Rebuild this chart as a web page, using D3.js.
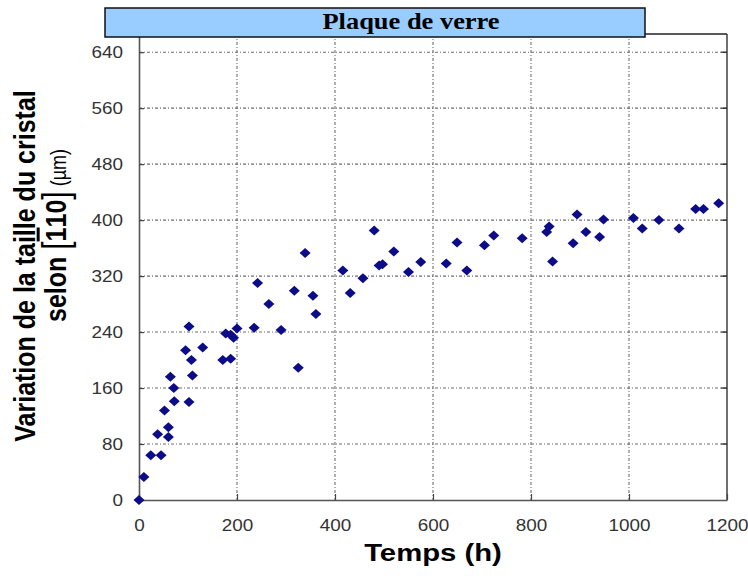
<!DOCTYPE html>
<html>
<head>
<meta charset="utf-8">
<script src="https://cdn.jsdelivr.net/npm/d3@7"></script>
<style>
  html, body { margin: 0; padding: 0; background: #fff; }
  svg { display: block; }
</style>
</head>
<body>
<svg id="chart" width="748" height="576"></svg>
<script>
// ---- data ----
const chartTitle = "Plaque de verre";
const xTitle = "Temps (h)";
const yTitleLine1 = "Variation de la taille du cristal";
const xTicks = [0, 200, 400, 600, 800, 1000, 1200];
const yTicks = [0, 80, 160, 240, 320, 400, 480, 560, 640];
const timeH = [0, 10, 24, 45, 38, 60, 60, 52, 72, 71, 64, 102, 109, 107, 95, 130, 102,
  171, 187, 177, 187, 193, 200, 235, 290, 325, 242, 265, 317, 355, 361, 339, 416, 431,
  457, 480, 490, 497, 520, 550, 575, 627, 649, 669, 705, 724, 782, 832, 837, 844, 886,
  894, 912, 940, 948, 1009, 1027, 1061, 1102, 1136, 1152, 1183];
const sizeUm = [0, 33, 64, 64, 94, 90, 104, 128, 141, 160, 176, 140, 178, 200, 214, 218, 248,
  200, 202, 238, 236, 232, 245, 246, 243, 189, 310, 280, 299, 292, 266, 353, 328, 296,
  317, 385, 335, 337, 355, 326, 340, 338, 368, 328, 364, 378, 374, 383, 391, 341, 367,
  408, 383, 376, 401, 403, 388, 400, 388, 416, 416, 424];

const svg = d3.select("#chart");
const L = 139, R = 727, T = 34, B = 500;
const x = d3.scaleLinear().domain([0, 1200]).range([L, R]);
const y = d3.scaleLinear().domain([0, 666]).range([B, T]);

// grid
const grid = svg.append("g");
grid.selectAll("line.h").data(yTicks.filter(d => d > 0)).join("line")
  .attr("x1", L).attr("x2", R).attr("y1", d => y(d)).attr("y2", d => y(d))
  .attr("stroke", "#6f6f6f").attr("stroke-width", 1.1).attr("stroke-dasharray", "3,2,1,2");
grid.selectAll("line.v").data(xTicks.filter(d => d > 0 && d < 1200)).join("line")
  .attr("x1", d => x(d)).attr("x2", d => x(d)).attr("y1", T).attr("y2", B)
  .attr("stroke", "#6f6f6f").attr("stroke-width", 1.1).attr("stroke-dasharray", "3,2,1,2");

// frame (top/right)
svg.append("line").attr("x1", L).attr("x2", R).attr("y1", T).attr("y2", T)
  .attr("stroke", "#222").attr("stroke-width", 1.3);
svg.append("line").attr("x1", R).attr("x2", R).attr("y1", T).attr("y2", B)
  .attr("stroke", "#222").attr("stroke-width", 1.3);
// right inward ticks
svg.append("g").selectAll("line").data(yTicks.filter(d => d > 0)).join("line")
  .attr("x1", R - 6).attr("x2", R).attr("y1", d => y(d)).attr("y2", d => y(d))
  .attr("stroke", "#222").attr("stroke-width", 1.2);

// axes
const fontTick = "'Liberation Sans', Arial, sans-serif";
const gx = svg.append("g").attr("transform", `translate(0,${B})`)
  .call(d3.axisBottom(x).tickValues(xTicks).tickSizeInner(-6).tickSizeOuter(0).tickFormat(d3.format("d")));
gx.select(".domain").attr("stroke", "#555").attr("stroke-width", 1.6);
gx.selectAll(".tick line").attr("stroke", "#444").attr("stroke-width", 1.2);
gx.selectAll(".tick text").attr("y", 20).attr("dy", "0.71em")
  .attr("transform", "scale(1.18,1)")
  .style("font-family", fontTick).style("font-size", "16px").attr("fill", "#333");

const gy = svg.append("g").attr("transform", `translate(${L},0)`)
  .call(d3.axisLeft(y).tickValues(yTicks).tickSizeInner(-5).tickSizeOuter(0).tickFormat(d3.format("d")));
gy.select(".domain").attr("stroke", "#555").attr("stroke-width", 1.6);
gy.selectAll(".tick line").attr("stroke", "#444").attr("stroke-width", 1.2);
gy.selectAll(".tick text").attr("x", 0).attr("dy", "0.35em")
  .attr("transform", "translate(-16,0) scale(1.18,1)")
  .style("font-family", fontTick).style("font-size", "16px").attr("fill", "#333");

// points
svg.append("g").selectAll("path").data(timeH.map((t, i) => [t, sizeUm[i]])).join("path")
  .attr("d", d3.symbol(d3.symbolSquare, 50)())
  .attr("transform", d => `translate(${x(d[0])},${y(d[1])}) scale(1.1,1) rotate(45)`)
  .attr("fill", "#0c0c88");

// title box
svg.append("rect").attr("x", 105).attr("y", 8).attr("width", 540).attr("height", 29)
  .attr("fill", "#99ccff").attr("stroke", "#111").attr("stroke-width", 1.5);
svg.append("text").attr("transform", "translate(411,29) scale(1.15,1)")
  .attr("text-anchor", "middle")
  .style("font-family", "'Liberation Serif', 'Times New Roman', serif")
  .style("font-weight", "bold").style("font-size", "23px").attr("fill", "#000")
  .text(chartTitle);

// x title
svg.append("text").attr("transform", "translate(433,561) scale(1.22,1)")
  .attr("text-anchor", "middle")
  .style("font-family", fontTick).style("font-weight", "bold").style("font-size", "24px")
  .attr("fill", "#000").text(xTitle);

// y title
svg.append("text").attr("transform", "translate(35,266) rotate(-90) scale(1,1.2)")
  .attr("text-anchor", "middle")
  .style("font-family", fontTick).style("font-weight", "bold").style("font-size", "25px")
  .attr("fill", "#000").text(yTitleLine1);
const l2 = svg.append("text").attr("transform", "translate(66,322) rotate(-90) scale(1,1.2)")
  .attr("text-anchor", "start")
  .style("font-family", fontTick).style("font-weight", "bold").style("font-size", "25px")
  .attr("fill", "#000");
l2.append("tspan").text("selon ");
l2.append("tspan").style("font-weight", "normal").style("font-size", "30px").attr("dy", 2).text("[");
l2.append("tspan").style("text-decoration", "overline").attr("dy", -2).text("1");
l2.append("tspan").text("10");
l2.append("tspan").style("font-weight", "normal").style("font-size", "30px").attr("dy", 2).text("]");
l2.append("tspan").style("font-weight", "normal").style("font-size", "18px").attr("dy", -2).text(" (µm)");
</script>
</body>
</html>
